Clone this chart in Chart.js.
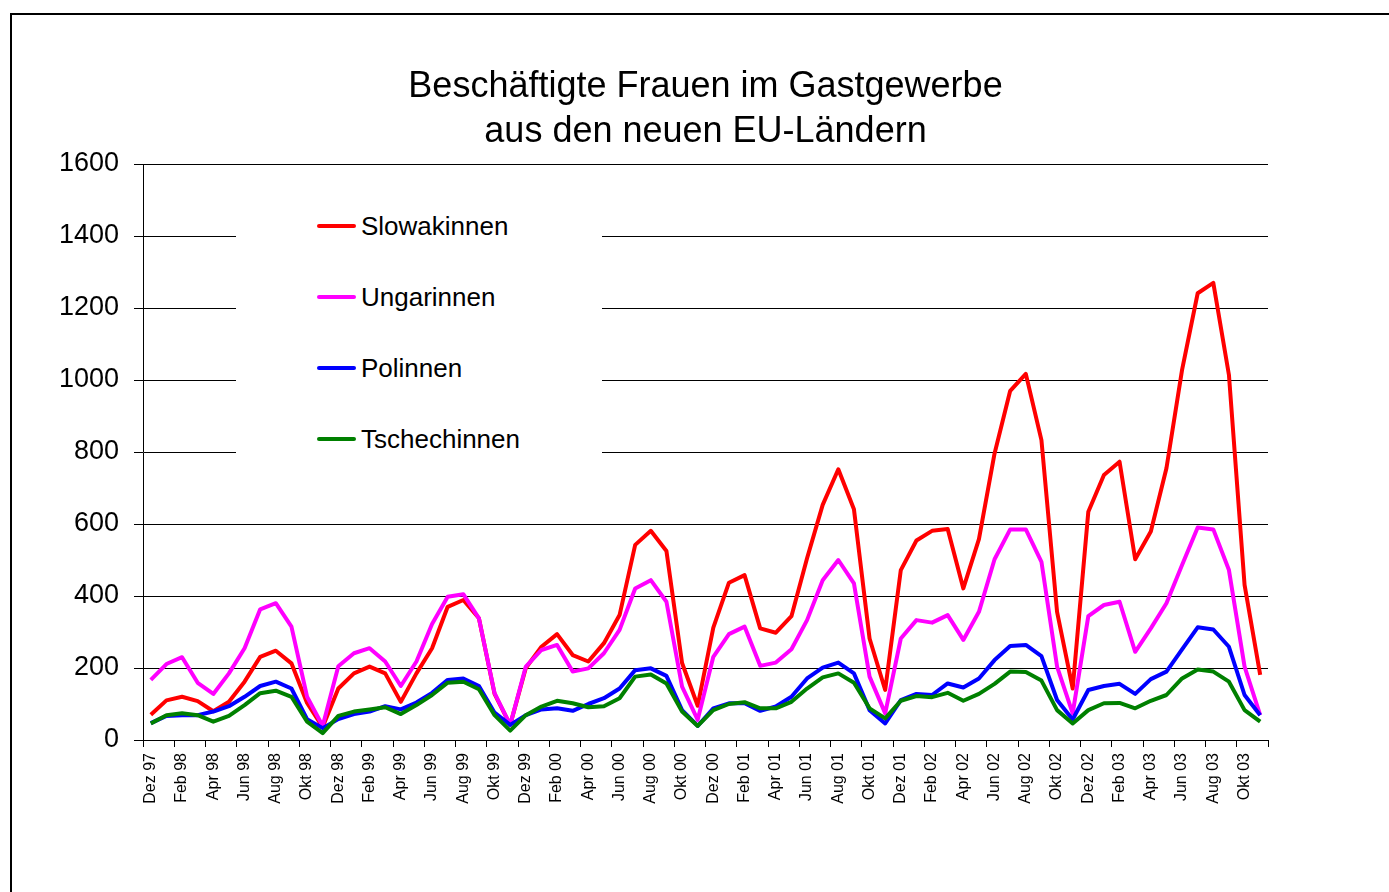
<!DOCTYPE html>
<html lang="de">
<head>
  <meta charset="UTF-8" />
  <title>Beschäftigte Frauen im Gastgewerbe</title>
  <script src="https://cdn.jsdelivr.net/npm/chart.js"></script>
  <style>
    body {
      margin: 0;
      background: #fff;
      font-family: "Liberation Sans", Arial, sans-serif;
    }
    #rahmen {
      position: absolute;
      left: 10px;
      top: 13px;
      width: 1400px;
      height: 900px;
      border: 2px solid #000;
    }
    #chart {
      position: absolute;
      left: 0;
      top: 0;
    }
    #legende {
      position: absolute;
      left: 236px;
      top: 195px;
      width: 366px;
      height: 268px;
      background: #fff;
      z-index: 2;
    }
    .eintrag {
      position: absolute;
      left: 81px;
      height: 30px;
      display: flex;
      align-items: center;
      font-size: 26px;
      color: #000;
      white-space: nowrap;
    }
    .eintrag span {
      display: inline-block;
      width: 39px;
      height: 4px;
      border-radius: 2px;
      margin-right: 5px;
    }
  </style>
</head>
<body>
  <div id="rahmen"></div>
  <canvas id="chart" width="1389" height="892"></canvas>
  <div id="legende"></div>

  <script>
    const monate = [
      "Dez 97", "Jan 98", "Feb 98", "Mär 98", "Apr 98", "Mai 98", "Jun 98", "Jul 98", "Aug 98", "Sep 98", "Okt 98", "Nov 98",
      "Dez 98", "Jan 99", "Feb 99", "Mär 99", "Apr 99", "Mai 99", "Jun 99", "Jul 99", "Aug 99", "Sep 99", "Okt 99", "Nov 99",
      "Dez 99", "Jan 00", "Feb 00", "Mär 00", "Apr 00", "Mai 00", "Jun 00", "Jul 00", "Aug 00", "Sep 00", "Okt 00", "Nov 00",
      "Dez 00", "Jan 01", "Feb 01", "Mär 01", "Apr 01", "Mai 01", "Jun 01", "Jul 01", "Aug 01", "Sep 01", "Okt 01", "Nov 01",
      "Dez 01", "Jan 02", "Feb 02", "Mär 02", "Apr 02", "Mai 02", "Jun 02", "Jul 02", "Aug 02", "Sep 02", "Okt 02", "Nov 02",
      "Dez 02", "Jan 03", "Feb 03", "Mär 03", "Apr 03", "Mai 03", "Jun 03", "Jul 03", "Aug 03", "Sep 03", "Okt 03", "Nov 03"
    ];

    const slowakinnen = [
      70, 110, 120, 108, 80, 106, 162, 231, 248, 213, 103, 36,
      143, 185, 204, 185, 106, 185, 255, 370, 389, 338, 128, 42,
      200, 259, 294, 236, 218, 269, 347, 542, 581, 525, 214, 95,
      312, 437, 458, 310, 298, 344, 505, 653, 752, 641, 282, 139,
      472, 554, 581, 586, 421, 558, 796, 970, 1017, 833, 356, 143,
      634, 736, 773, 502, 579, 755, 1028, 1241, 1270, 1014, 431, 181
    ];
    const ungarinnen = [
      167, 211, 230, 159, 128, 185, 255, 363, 380, 315, 120, 39,
      205, 241, 255, 218, 150, 218, 322, 398, 405, 338, 130, 42,
      204, 250, 264, 190, 199, 241, 306, 421, 444, 384, 148, 56,
      231, 294, 315, 206, 215, 252, 333, 444, 500, 435, 176, 74,
      282, 333, 326, 347, 278, 356, 502, 585, 585, 495, 204, 74,
      344, 375, 384, 245, 310, 380, 486, 590, 585, 472, 204, 69
    ];
    const polinnen = [
      47, 67, 69, 69, 79, 94, 120, 150, 162, 143, 58, 33,
      58, 72, 79, 94, 85, 104, 131, 167, 171, 150, 76, 42,
      69, 85, 88, 81, 100, 116, 143, 194, 199, 178, 83, 39,
      88, 102, 102, 81, 93, 120, 171, 201, 215, 185, 83, 46,
      111, 128, 125, 157, 146, 171, 222, 261, 264, 233, 111, 57,
      139, 150, 156, 128, 169, 190, 252, 313, 307, 259, 125, 69
    ];
    const tschechinnen = [
      46, 69, 74, 69, 51, 67, 97, 130, 137, 120, 51, 19,
      67, 79, 85, 91, 72, 97, 125, 159, 162, 141, 69, 26,
      69, 93, 109, 102, 91, 94, 116, 176, 182, 157, 79, 39,
      83, 100, 105, 88, 88, 106, 143, 174, 185, 159, 88, 60,
      109, 122, 119, 131, 109, 128, 156, 190, 189, 165, 83, 46,
      83, 102, 103, 88, 109, 125, 171, 196, 190, 162, 83, 51
    ];

    const serienNamen = ["Slowakinnen", "Ungarinnen", "Polinnen", "Tschechinnen"];
    const serienFarben = ["#ff0000", "#ff00ff", "#0000ff", "#008000"];
    const yWerte = [0, 200, 400, 600, 800, 1000, 1200, 1400, 1600];

    const schrift = '"Liberation Sans", Arial, sans-serif';

    const datasets = [slowakinnen, ungarinnen, polinnen, tschechinnen].map((werte, i) => ({
      label: serienNamen[i],
      data: werte,
      borderColor: serienFarben[i],
      backgroundColor: serienFarben[i],
      borderWidth: 4,
      borderJoinStyle: 'round',
      pointRadius: 0,
      tension: 0,
      fill: false,
      order: 4 - i
    }));

    const chart = new Chart(document.getElementById('chart'), {
      type: 'line',
      data: { labels: monate, datasets },
      options: {
        responsive: false,
        animation: false,
        layout: { padding: { left: 0, right: 121, top: 0, bottom: 0 } },
        plugins: {
          legend: { display: false },
          tooltip: { enabled: false },
          title: {
            display: true,
            fullSize: false,
            text: ["Beschäftigte Frauen im Gastgewerbe", "aus den neuen EU-Ländern"],
            color: '#000',
            font: { family: schrift, size: 36, weight: 'normal', lineHeight: 1.25 },
            padding: { top: 65, bottom: 9 }
          }
        },
        scales: {
          x: {
            offset: true,
            grid: {
              offset: true,
              drawOnChartArea: false,
              drawTicks: true,
              tickLength: 7,
              tickColor: ctx => (ctx.index === undefined || ctx.index % 2 === 0) ? '#000' : 'rgba(0,0,0,0)'
            },
            border: { display: true, color: '#000', width: 1 },
            ticks: {
              autoSkip: false,
              minRotation: 90,
              maxRotation: 90,
              padding: 6,
              color: '#000',
              font: { family: schrift, size: 16 },
              callback: (v, i) => i % 2 === 0 ? monate[i] : ''
            },
            afterFit: scale => { scale.height = 152; }
          },
          y: {
            min: 0,
            max: 1600,
            grid: { color: '#000', lineWidth: 1, tickLength: 9, tickColor: '#000' },
            border: { display: true, color: '#000', width: 1 },
            ticks: {
              padding: 15,
              color: '#000',
              font: { family: schrift, size: 27 },
              callback: v => String(v)
            },
            afterBuildTicks: scale => { scale.ticks = yWerte.map(v => ({ value: v })); },
            afterFit: scale => { scale.width = 143; }
          }
        }
      }
    });

    // Legende als HTML, damit sie wie im Original frei im Diagramm steht
    const legende = document.getElementById('legende');
    chart.data.datasets.forEach((ds, i) => {
      const zeile = document.createElement('div');
      zeile.className = 'eintrag';
      zeile.style.top = (226 + 71 * i - 195 - 15) + 'px';
      zeile.innerHTML = '<span style="background:' + ds.borderColor + '"></span>' + ds.label;
      legende.appendChild(zeile);
    });
  </script>
</body>
</html>
